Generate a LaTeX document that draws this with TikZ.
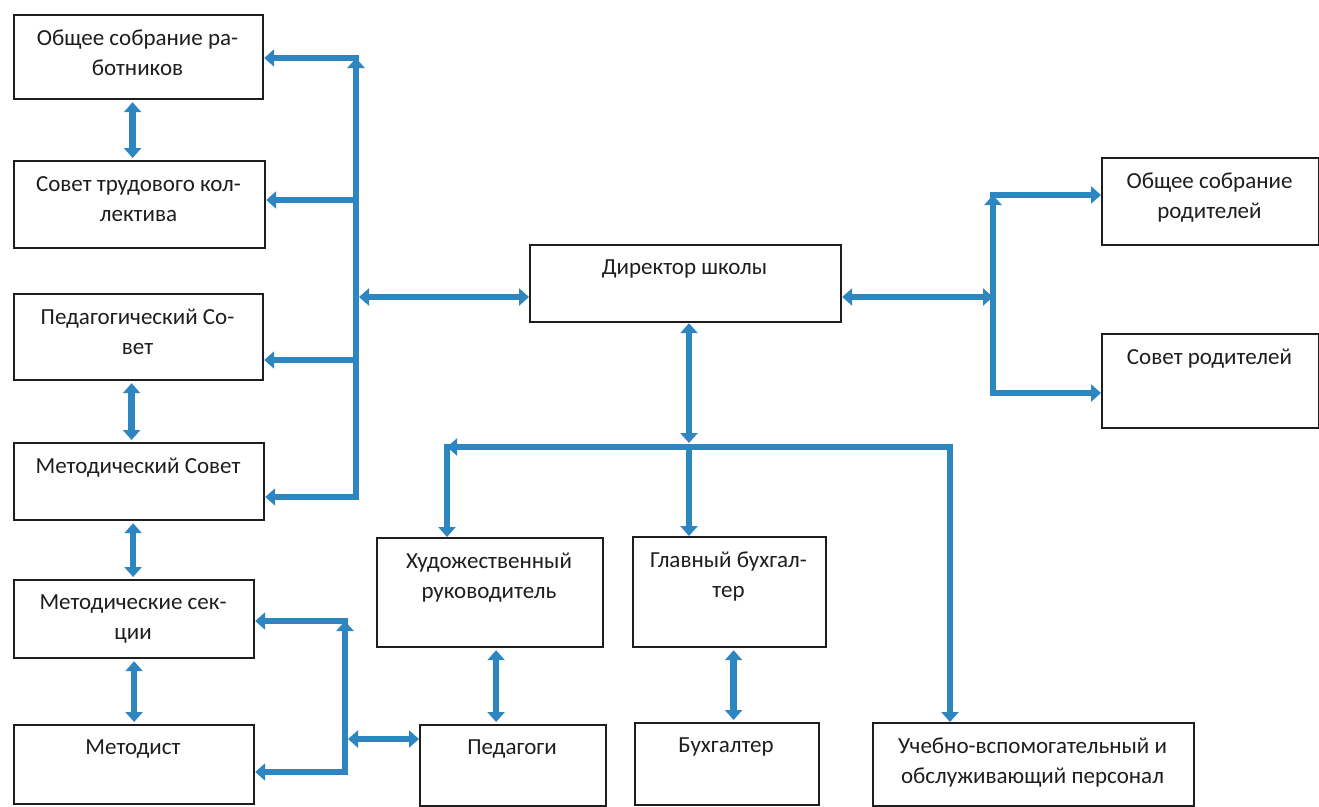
\documentclass[tikz,border=0pt]{standalone}
\usepackage{fontspec}
\setmainfont{Carlito}
\usetikzlibrary{arrows.meta}
\definecolor{linkblue}{RGB}{46,134,193}
\definecolor{inkgray}{RGB}{30,30,30}
\tikzset{%
  unit/.style={draw=inkgray,line width=2.2pt,inner sep=0pt,anchor=north west},
  unit text/.style={font=\fontsize{23}{30}\selectfont,text=inkgray,
    align=center,anchor=north,inner sep=0pt},
  link/.style={draw=linkblue,line width=6.5pt,line cap=rect,
    -{Triangle[length=10pt,width=17pt]}},
  both link/.style={link,{Triangle[length=10pt,width=17pt]}-{Triangle[length=10pt,width=17pt]}},
}
% box from corner (#2,#3) to corner (#4,#5), text at its top
\newcommand{\orgbox}[6]{%
  \pgfmathsetmacro{\boxw}{#4-#2}%
  \pgfmathsetmacro{\boxh}{#5-#3}%
  \node [unit,minimum width=\boxw pt,minimum height=\boxh pt] (#1) at (#2,#3) {};
  \node [unit text] (#1-t) at ({(#2+#4)/2},{#3+16}) {#6};
}
\begin{document}
\begin{tikzpicture}[x=1pt,y={(0pt,-1pt)}]
  \fill [white] (0,0) rectangle (1319,806);
  \useasboundingbox (0,0) rectangle (1319,806);
  % left column
  \orgbox{wrk}{13}{14}{262}{98}{Общее собрание ра-\\ботников}
  \orgbox{lab}{13}{160}{264}{247}{Совет трудового кол-\\лектива}
  \orgbox{ped}{13}{293}{262}{379}{Педагогический Со-\\вет}
  \orgbox{met}{13}{442}{263}{519}{Методический Совет}
  \orgbox{sec}{13}{579}{253}{657}{Методические сек-\\ции}
  \orgbox{mtd}{13}{724}{253}{803}{Методист}
  % director and parents
  \orgbox{dir}{529}{244}{840}{321}{Директор школы}
  \orgbox{pas}{1101}{157}{1318}{244}{Общее собрание\\родителей}
  \orgbox{par}{1101}{333}{1318}{427}{Совет родителей}
  % lower row
  \orgbox{art}{376}{537}{602}{646}{Художественный\\руководитель}
  \orgbox{acc}{632}{536}{825}{646}{Главный бухгал-\\тер}
  \orgbox{tch}{419}{724}{605}{805}{Педагоги}
  \orgbox{buh}{634}{722}{818}{804}{Бухгалтер}
  \orgbox{stf}{872}{722}{1193}{805}{Учебно-вспомогательный и\\обслуживающий персонал}

  % left bus
  \coordinate (lbT) at (356,58);
  \coordinate (lbL) at (356,200);
  \coordinate (lbD) at (356,297);
  \coordinate (lbP) at (356,360);
  \coordinate (lbM) at (356,497);
  \draw [link] (lbM) -- (lbT);
  \draw [link] (lbT) -- (lbT -| wrk.east);
  \draw [link] (lbL) -- (lbL -| lab.east);
  \draw [link] (lbP) -- (lbP -| ped.east);
  \draw [link] (lbM) -- (lbM -| met.east);
  \draw [both link,shorten <=3pt] (lbD) -- (lbD -| dir.west);
  % right bus
  \coordinate (rbT) at (993,195);
  \coordinate (rbD) at (993,297);
  \coordinate (rbB) at (993,393);
  \draw [link] (rbB) -- (rbT);
  \draw [link] (rbT) -- (rbT -| pas.west);
  \draw [link] (rbB) -- (rbB -| par.west);
  \draw [both link] (rbD -| dir.east) -- (rbD);
  % middle bus
  \coordinate (mbL) at (447,447);
  \coordinate (mbC) at (689,447);
  \coordinate (mbR) at (950,447);
  \draw [both link,shorten >=4pt] (mbC |- dir.south) -- (mbC);
  \draw [link] (mbR) -- (mbL);
  \draw [link] (mbL) -- (mbL |- art.north);
  \draw [link] (mbC) -- (mbC |- acc.north);
  \draw [link] (mbR) -- (mbR |- stf.north);
  % lower left bus
  \coordinate (sbT) at (345,621);
  \coordinate (sbP) at (345,739);
  \coordinate (sbB) at (345,772);
  \draw [link] (sbB) -- (sbT);
  \draw [link] (sbT) -- (sbT -| sec.east);
  \draw [link] (sbB) -- (sbB -| mtd.east);
  \draw [both link,shorten <=3pt] (sbP) -- (sbP -| tch.west);
  % box to box
  \draw [both link,shorten <=2pt,shorten >=2pt] ([xshift=-6pt]wrk.south) -- ([xshift=-6pt]wrk.south |- lab.north);
  \draw [both link,shorten <=2pt,shorten >=2pt] ([xshift=-7pt]ped.south) -- ([xshift=-7pt]ped.south |- met.north);
  \draw [both link,shorten <=2pt,shorten >=2pt] ([xshift=-6pt]met.south) -- ([xshift=-6pt]met.south |- sec.north);
  \draw [both link,shorten <=2pt,shorten >=2pt] (sec.south) -- (sec.south |- mtd.north);
  \draw [both link,shorten <=2pt,shorten >=2pt] ([xshift=6pt]art.south) -- ([xshift=6pt]art.south |- tch.north);
  \draw [both link,shorten <=2pt,shorten >=2pt] ([xshift=4pt]acc.south) -- ([xshift=4pt]acc.south |- buh.north);
\end{tikzpicture}
\end{document}
